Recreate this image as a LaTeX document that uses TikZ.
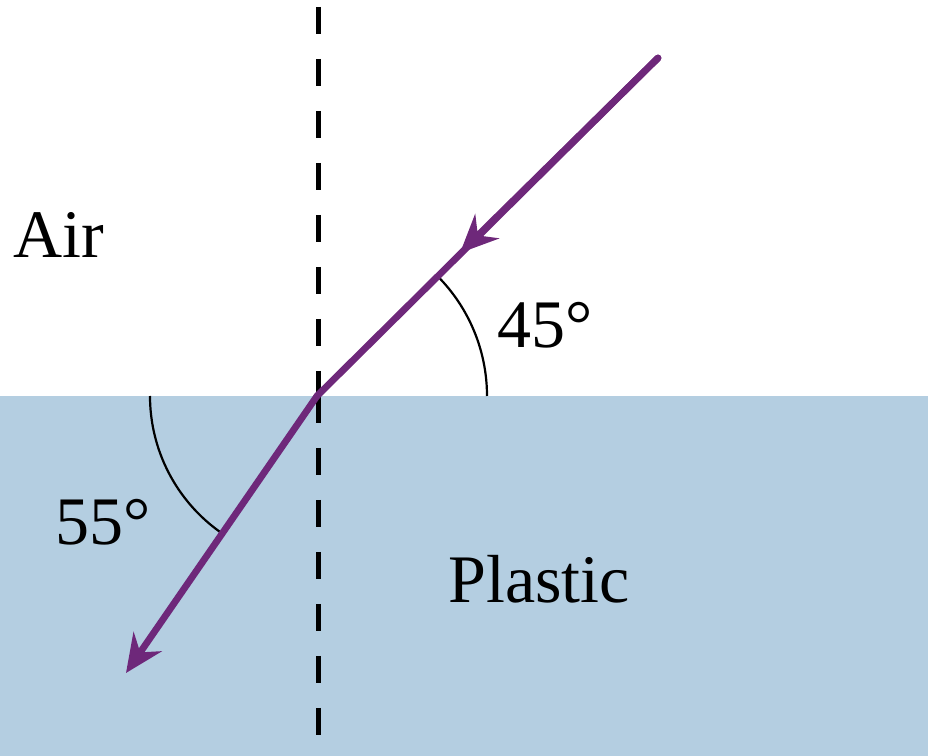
\documentclass[tikz,border=0pt]{standalone}
\usepackage{fontspec}
\setmainfont{Liberation Serif}
\usepackage{tikz}
\usetikzlibrary{arrows.meta}
\usepackage{xcolor}
\definecolor{plasticblue}{RGB}{180,206,225}
\definecolor{raypurple}{RGB}{110,40,122}

\begin{document}
\begin{tikzpicture}[x=0.5pt, y=0.5pt,
    ray/.style={line width=3.4pt, draw=raypurple, line cap=round},
    tip/.style={-{Stealth[length=19pt, width=17pt, inset=6.5pt, fill=raypurple]}},
    normalline/.style={line width=2.5pt, dash pattern=on 13.5pt off 12.5pt},
    anglearc/.style={line width=1.1pt},
    lbl/.style={anchor=base west, inner sep=0pt, font=\fontsize{34}{40}\selectfont}]
    \useasboundingbox (0,0) rectangle (928,756);

    % Plastic block
    \fill[plasticblue] (0,0) rectangle (928,360);

    % Points on the rays
    \coordinate (src) at (658,698);
    \coordinate (mid) at (460,503);
    \coordinate (hit) at (317,360);
    \coordinate (out) at (126,83);

    % Normal
    \coordinate (ntop) at (318,749);
    \coordinate (nhit) at (318,360);
    \coordinate (nbot) at (318,0);
    \draw[normalline] (ntop) -- (nhit);
    \draw[normalline] (nhit) -- (nbot);

    % Angle arcs
    \draw[anglearc] (487,360) arc[start angle=0, end angle=45, radius=85pt];
    \draw[anglearc] (150,360) arc[start angle=180, end angle=235, radius=83.5pt];

    % Incident and refracted rays
    \draw[ray] (src) -- (hit);
    \draw[ray, tip] (src) -- (mid);
    \draw[ray, tip] (hit) -- (out);

    % Labels
    \node[lbl] (air) at (13,498) {Air};
    \node[lbl] (inc) at (497,408) {45°};
    \node[lbl] (ref) at (55,211) {55°};
    \node[lbl] (plastic) at (448,153) {Plastic};
\end{tikzpicture}
\end{document}
